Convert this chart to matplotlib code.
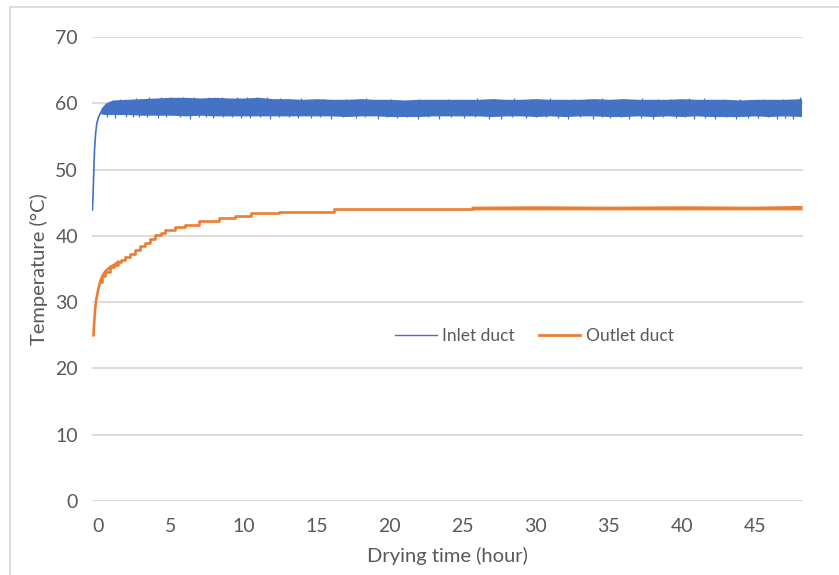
import matplotlib
matplotlib.use('Agg')
import matplotlib.pyplot as plt
from matplotlib.lines import Line2D
from matplotlib.patches import Rectangle

plt.rcParams['font.family'] = ['Lato', 'DejaVu Sans']

# inlet duct: start-up rise, then a noisy band (low / high edges read per hour)
inlet_rise_t = [-0.37, -0.33, -0.28, -0.23, -0.15, -0.07, 0.05, 0.15, 0.25]
inlet_rise_v = [43.9, 46.0, 49.5, 52.9, 55.5, 57.0, 57.9, 58.4, 58.8]
inlet_band_t = [0.2, 0.5, 1, 2, 3, 4, 5, 6, 7, 8, 9, 10, 11, 12, 13, 14, 15, 16, 17, 18, 19, 20,
                21, 22, 23, 24, 25, 26, 27, 28, 29, 30, 31, 32, 33, 34, 35, 36, 37, 38, 39,
                40, 41, 42, 43, 44, 45, 46, 47, 48.2]
inlet_band_hi = [59.2, 60.0, 60.5, 60.6, 60.7, 60.8, 60.9, 60.9, 60.8, 60.9, 60.8, 60.8, 60.9,
                 60.7, 60.7, 60.6, 60.7, 60.6, 60.6, 60.7, 60.6, 60.6, 60.5, 60.6, 60.6, 60.6,
                 60.6, 60.6, 60.7, 60.6, 60.6, 60.7, 60.6, 60.6, 60.6, 60.7, 60.6, 60.7, 60.6,
                 60.6, 60.6, 60.7, 60.6, 60.6, 60.6, 60.5, 60.6, 60.6, 60.6, 60.7]
inlet_band_lo = [58.4, 58.3, 58.3, 58.3, 58.2, 58.2, 58.2, 58.1, 58.2, 58.1, 58.1, 58.1, 58.1,
                 58.1, 58.1, 58.1, 58.1, 58.1, 58.0, 58.1, 58.1, 58.0, 58.0, 58.0, 58.1, 58.1,
                 58.1, 58.1, 58.0, 58.1, 58.1, 58.0, 58.1, 58.0, 58.1, 58.1, 58.0, 58.0, 58.1,
                 58.0, 58.1, 58.0, 58.1, 58.0, 58.0, 58.0, 58.1, 58.0, 58.1, 58.0]
inlet_dip_t = [0.6, 1.2, 1.9, 2.4, 2.8, 3.4, 4.1, 4.7, 5.6, 6.3, 6.9, 7.4, 7.9, 8.6, 9.2, 9.8,
               10.4, 11.1, 11.8, 12.4, 13.1, 13.7, 14.6, 15.2, 16.0, 16.8, 17.7, 18.3, 19.2,
               19.8, 20.5, 21.2, 21.9, 22.6, 23.4, 24.2, 25.1, 25.8, 26.8, 27.6, 28.4, 29.3,
               30.0, 30.7, 31.5, 32.2, 33.0, 33.9, 34.5, 35.1, 35.8, 36.4, 37.2, 38.0, 38.7,
               39.6, 40.2, 40.8, 41.6, 42.3, 43.0, 43.7, 44.5, 45.2, 45.9, 46.5, 47.1, 47.6]
inlet_dip_v = [57.9, 57.8, 58.0, 57.9, 57.9, 58.0, 57.8, 57.9, 57.9, 57.7, 58.0, 57.9, 57.8,
               58.0, 57.9, 57.8, 57.8, 57.9, 57.7, 58.0, 57.9, 57.8, 57.8, 58.0, 57.6, 57.9,
               57.8, 57.9, 57.7, 58.0, 57.8, 57.9, 57.6, 57.9, 57.7, 57.9, 57.8, 57.9, 57.6,
               57.7, 57.9, 57.8, 57.9, 57.9, 57.8, 57.7, 57.9, 57.6, 58.0, 57.8, 57.9, 57.7,
               57.8, 57.6, 57.9, 57.8, 57.9, 57.7, 57.8, 57.7, 57.9, 57.6, 57.8, 57.8, 57.9,
               57.7, 57.8, 57.6]
inlet_peak_t = [1.5, 2.6, 3.5, 4.3, 5.0, 5.8, 6.6, 7.6, 8.5, 9.5, 10.2, 10.9, 11.6, 12.5,
                13.9, 15.5, 17.0, 18.4, 20.1, 22.0, 24.0, 26.0, 27.2, 28.5, 29.7, 31.0, 32.6,
                33.6, 34.5, 35.9, 37.3, 38.4, 39.2, 40.5, 41.5, 42.8, 44.0, 45.6, 46.9, 48.1]
inlet_peak_v = [60.7, 60.8, 60.9, 61.0, 61.0, 61.0, 61.0, 60.9, 61.0, 60.9, 60.9, 61.0, 60.9,
                60.8, 60.8, 60.7, 60.7, 60.8, 60.7, 60.7, 60.7, 60.8, 60.7, 60.8, 60.7, 60.8,
                60.7, 60.7, 60.8, 60.7, 60.8, 60.7, 60.7, 60.8, 60.8, 60.7, 60.7, 60.7, 60.7, 60.9]

# outlet duct: stepped rise then plateau
outlet_t = [-0.3, -0.24, -0.18, -0.1, 0.0, 0.08, 0.16, 0.3, 0.5, 0.84, 1.1, 1.4, 1.6, 1.87,
            2.2, 2.55, 2.9, 3.24, 3.6, 3.92, 4.3, 4.6, 5.3, 6.0, 6.9, 8.3, 9.4, 10.5, 12.4,
            16.2, 25.6]
outlet_v = [25.0, 27.2, 29.1, 30.5, 31.6, 32.4, 33.1, 33.9, 34.6, 35.3, 35.6, 36.1, 36.4, 36.8,
            37.3, 37.9, 38.4, 38.9, 39.5, 40.1, 40.5, 40.9, 41.4, 41.6, 42.2, 42.7, 43.0, 43.4,
            43.6, 44.0, 44.0]
outlet_band_t = [25.6, 30, 35, 40, 45, 48.2]
outlet_band_lo = [44.0, 44.0, 44.0, 44.0, 44.0, 44.0]
outlet_band_hi = [44.4, 44.45, 44.4, 44.45, 44.4, 44.5]

blue = '#4472C4'
orange = '#ED7D31'
grid_c = '#D9D9D9'
text_c = '#595959'

fig = plt.figure(figsize=(8.39, 5.75), dpi=100)
ax = fig.add_axes([92 / 839, 74 / 575, 711 / 839, 464 / 575])

ax.plot(inlet_rise_t, inlet_rise_v, color=blue, lw=1.2, zorder=3)
ax.fill_between(inlet_band_t, inlet_band_lo, inlet_band_hi, color=blue, lw=0, zorder=3)
ax.vlines(inlet_dip_t, 58.4, inlet_dip_v, color=blue, lw=0.9, zorder=3)
ax.vlines(inlet_peak_t, 60.2, inlet_peak_v, color=blue, lw=0.9, zorder=3)

ax.plot(outlet_t[6:], outlet_v[6:], color=orange, lw=1.9, drawstyle='steps-post', zorder=3)
ax.plot(outlet_t[:12], outlet_v[:12], color=orange, lw=1.9, zorder=3)
ax.fill_between(outlet_band_t, outlet_band_lo, outlet_band_hi, color=orange, lw=0.8,
                edgecolor=orange, zorder=3)

ax.set_xlim(-0.4, 48.3)
ax.set_ylim(0, 70)
ax.set_xticks(range(0, 50, 5))
ax.set_yticks(range(0, 80, 10))
ax.grid(axis='y', color=grid_c, lw=1.3)
ax.set_axisbelow(True)
for s in ax.spines.values():
    s.set_visible(False)
ax.tick_params(length=0, labelsize=14, labelcolor=text_c, pad=10)
ax.tick_params(axis='x', pad=12)

ax.set_xlabel('Drying time (hour)', fontsize=14.5, color=text_c, labelpad=9)
ax.set_ylabel('Temperature (°C)', fontsize=14.5, color=text_c, labelpad=5)

handles = [Line2D([], [], color=blue, lw=1), Line2D([], [], color=orange, lw=2)]
ax.legend(handles, ['Inlet duct', 'Outlet duct'], loc='center', bbox_to_anchor=(0.622, 0.356),
          ncol=2, frameon=False, fontsize=12.5, labelcolor=text_c, handlelength=2.4,
          columnspacing=1.4, handletextpad=0.3)

fig.patches.append(Rectangle((10 / 839, -0.05), 1.1, (575 - 7) / 575 + 0.05,
                             transform=fig.transFigure, fill=False, edgecolor=grid_c, lw=1.3))

plt.savefig('out.png', dpi=100)
plt.close()
